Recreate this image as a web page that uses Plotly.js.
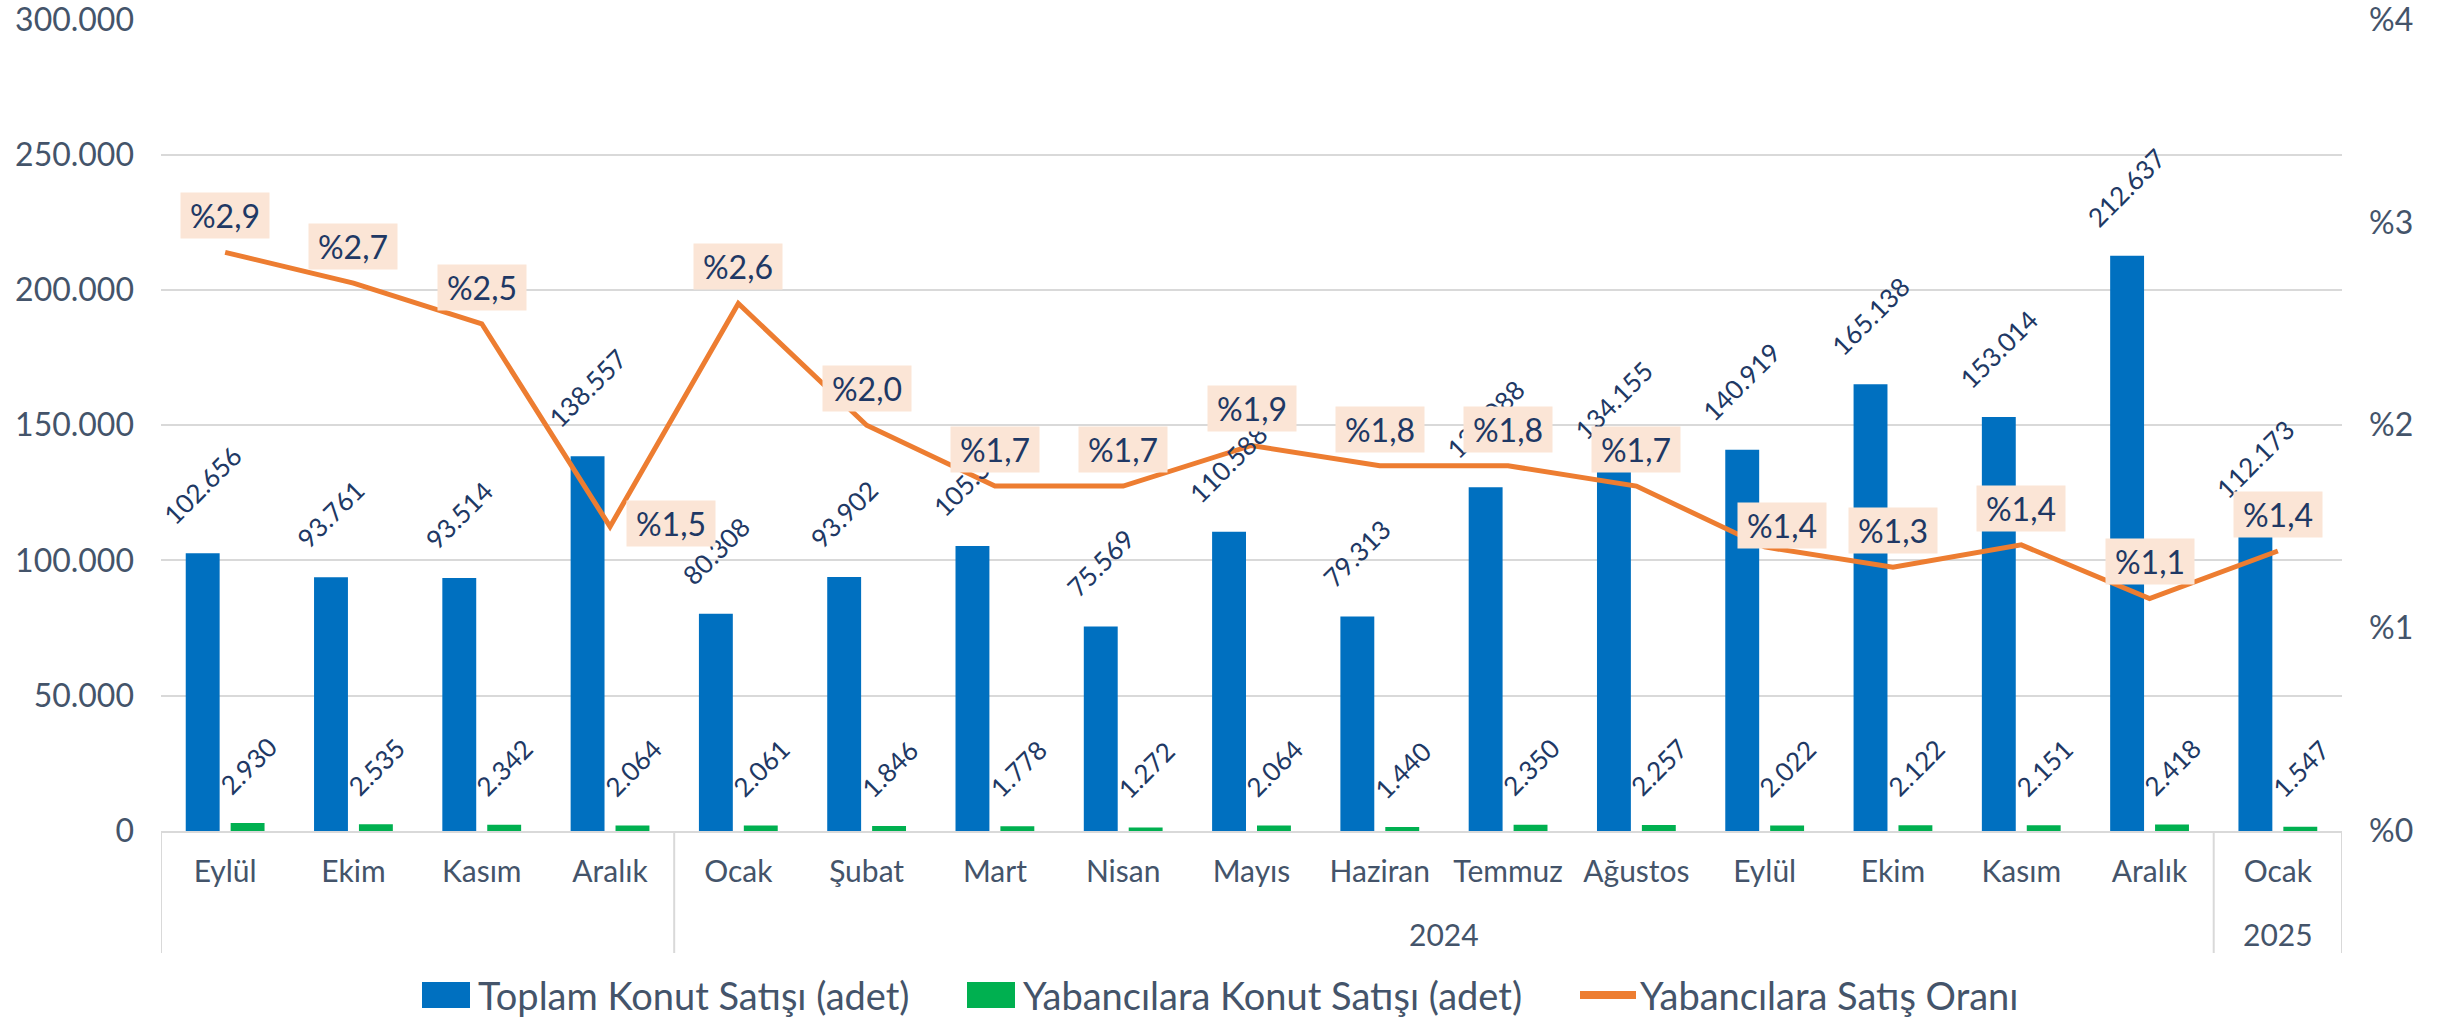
<!DOCTYPE html>
<html><head><meta charset="utf-8">
<script src="https://cdn.plot.ly/plotly-3.0.1.min.js"></script>
<style>html,body{margin:0;padding:0;background:#fff}#chart{width:2448px;height:1019px}</style>
</head><body><div id="chart"></div>
<script>
// ---- data ----
const months = ['Eylül','Ekim','Kasım','Aralık','Ocak','Şubat','Mart','Nisan','Mayıs','Haziran','Temmuz','Ağustos','Eylül','Ekim','Kasım','Aralık','Ocak'];
const yearLabels = ['', '2024', '2025'];
const yearStart = [0, 4, 16];
const yearEnd = [3, 15, 16];
const totalSales = [102656, 93761, 93514, 138557, 80308, 93902, 105394, 75569, 110588, 79313, 127088, 134155, 140919, 165138, 153014, 212637, 112173];
const foreignSales = [2930, 2535, 2342, 2064, 2061, 1846, 1778, 1272, 2064, 1440, 2350, 2257, 2022, 2122, 2151, 2418, 1547];
const foreignShare = [2.852, 2.70, 2.50, 1.50, 2.60, 2.00, 1.70, 1.70, 1.90, 1.80, 1.80, 1.70, 1.40, 1.30, 1.41, 1.146, 1.38];
const seriesNames = ['Toplam Konut Satışı (adet)', 'Yabancılara Konut Satışı (adet)', 'Yabancılara Satış Oranı'];
const leftTicks = [0, 50000, 100000, 150000, 200000, 250000, 300000];
const rightTicks = [0, 1, 2, 3, 4];

// ---- styling ----
const FONT = 'Lato, "Noto Sans", sans-serif';
const AXIS_COLOR = '#44546A';
const LABEL_COLOR = '#203864';
const BLUE = '#0070C0', GREEN = '#00B050', ORANGE = '#ED7D31';
const GRID = '#D9D9D9';
const ML = 161, MR = 106, MT = 19, MB = 188, W = 2448, H = 1019;
const PW = W - ML - MR, PH = H - MT - MB;
const px2x = p => (p - ML) / PW;
const py2y = p => (H - MB - p) / PH;

const idx = months.map((_, i) => i);
const fmtInt = v => String(v).replace(/\B(?=(\d{3})+(?!\d))/g, '.');
const fmtPct = v => '%' + v.toFixed(1).replace('.', ',');
const yMax = 300150, y2Max = 4 * yMax / 300000;

const traces = [
  { type: 'bar', name: seriesNames[0], x: idx, y: totalSales, marker: { color: BLUE }, hoverinfo: 'skip' },
  { type: 'bar', name: seriesNames[1], x: idx, y: foreignSales, marker: { color: GREEN }, hoverinfo: 'skip' },
  { type: 'scatter', mode: 'lines', name: seriesNames[2], x: idx, y: foreignShare, yaxis: 'y2',
    line: { color: ORANGE, width: 5 }, hoverinfo: 'skip' }
];

const annotations = [];
const barOffset = 22.7;
totalSales.forEach((v, i) => annotations.push({
  x: i, y: v, xref: 'x', yref: 'y', text: fmtInt(v), showarrow: false, textangle: -45,
  xanchor: 'center', yanchor: 'bottom', xshift: -barOffset, yshift: 20,
  font: { family: FONT, size: 26, color: LABEL_COLOR }
}));
foreignSales.forEach((v, i) => annotations.push({
  x: i, y: v, xref: 'x', yref: 'y', text: fmtInt(v), showarrow: false, textangle: -45,
  xanchor: 'center', yanchor: 'bottom', xshift: barOffset, yshift: 20,
  font: { family: FONT, size: 26, color: LABEL_COLOR }
}));
foreignShare.forEach((v, i) => {
  const a = {
    x: i, y: v, xref: 'x', yref: 'y2', text: fmtPct(v), showarrow: false,
    xanchor: 'center', yanchor: 'bottom', yshift: 13,
    bgcolor: '#FBE5D6', borderpad: 3, width: 82,
    font: { family: FONT, size: 32, color: LABEL_COLOR }
  };
  if (i === 3) { a.xanchor = 'left'; a.yanchor = 'middle'; a.xshift = 16; a.yshift = 3; }
  if (i === 12) { a.xshift = 17; a.yshift = -2; }
  annotations.push(a);
});
// year group labels
yearLabels.forEach((t, g) => {
  if (!t) return;
  annotations.push({
    x: (yearStart[g] + yearEnd[g]) / 2, y: py2y(934), xref: 'x', yref: 'paper', text: t, showarrow: false,
    xanchor: 'center', yanchor: 'middle', font: { family: FONT, size: 30, color: AXIS_COLOR }
  });
});

// group dividers
const shapes = [];
const dividerX = [yearStart[0] - 0.5].concat(yearEnd.map(e => e + 0.5));
dividerX.forEach(xv => shapes.push({
  type: 'line', xref: 'x', yref: 'paper', x0: xv, x1: xv, y0: 0, y1: py2y(953),
  line: { color: GRID, width: 2 }
}));

// legend (drawn as keys + labels below the plot)
const legendY = py2y(995);
const legendItems = [
  { kind: 'rect', color: BLUE, x0: 422, x1: 470, textX: 476 },
  { kind: 'rect', color: GREEN, x0: 967, x1: 1015, textX: 1021 },
  { kind: 'line', color: ORANGE, x0: 1580, x1: 1636, textX: 1638 }
];
legendItems.forEach((it, k) => {
  if (it.kind === 'rect') {
    shapes.push({ type: 'rect', xref: 'paper', yref: 'paper', x0: px2x(it.x0), x1: px2x(it.x1),
      y0: py2y(1008), y1: py2y(982), fillcolor: it.color, line: { width: 0 } });
  } else {
    shapes.push({ type: 'line', xref: 'paper', yref: 'paper', x0: px2x(it.x0), x1: px2x(it.x1),
      y0: py2y(995), y1: py2y(995), line: { color: it.color, width: 8 } });
  }
  annotations.push({ x: px2x(it.textX), y: legendY, xref: 'paper', yref: 'paper', text: seriesNames[k],
    showarrow: false, xanchor: 'left', yanchor: 'middle', font: { family: FONT, size: 38, color: AXIS_COLOR } });
});

const layout = {
  width: W, height: H,
  margin: { l: ML, r: MR, t: MT, b: MB },
  paper_bgcolor: '#fff', plot_bgcolor: '#fff',
  separators: ',.',
  font: { family: FONT, color: AXIS_COLOR },
  barmode: 'group', bargap: 0.30, bargroupgap: 0.245,
  showlegend: false,
  xaxis: {
    range: [-0.5, 16.5], tickmode: 'array', tickvals: idx, ticktext: months,
    showgrid: false, zeroline: false, showline: true, linecolor: GRID, linewidth: 2,
    ticks: '', tickfont: { family: FONT, size: 30, color: AXIS_COLOR }, ticklabelstandoff: 13
  },
  yaxis: {
    range: [0, yMax], tickmode: 'array', tickvals: leftTicks, tickformat: ',d',
    showgrid: true, gridcolor: GRID, gridwidth: 2, zeroline: false, showline: false,
    ticks: '', tickfont: { family: FONT, size: 32, color: AXIS_COLOR }, ticklabelstandoff: 26,
    ticklabeloverflow: 'allow'
  },
  yaxis2: {
    range: [0, y2Max], overlaying: 'y', side: 'right', tickmode: 'array', tickvals: rightTicks,
    ticktext: rightTicks.map(v => '%' + v), showgrid: false, zeroline: false, showline: false,
    ticks: '', tickfont: { family: FONT, size: 32, color: AXIS_COLOR }, ticklabelstandoff: 26,
    ticklabeloverflow: 'allow'
  },
  annotations: annotations,
  shapes: shapes
};

Plotly.newPlot('chart', traces, layout, { staticPlot: true, displayModeBar: false });
</script></body></html>
